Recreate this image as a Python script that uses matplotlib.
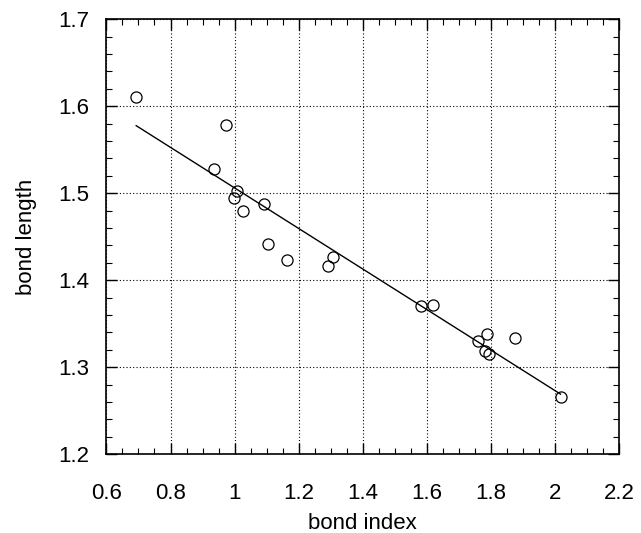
import numpy as np
import matplotlib
matplotlib.use("Agg")
import matplotlib.pyplot as plt
from matplotlib.ticker import MultipleLocator

plt.rcParams['font.family'] = ['Liberation Sans', 'DejaVu Sans']

# values
bond_index = [0.693, 0.936, 0.972, 0.997, 1.008, 1.025, 1.093, 1.105, 1.165, 1.292,
              1.307, 1.583, 1.618, 1.759, 1.780, 1.786, 1.794, 1.875, 2.017]
bond_length = [1.610, 1.528, 1.578, 1.494, 1.502, 1.480, 1.487, 1.442, 1.423, 1.416,
               1.427, 1.370, 1.371, 1.330, 1.318, 1.338, 1.315, 1.333, 1.266]

x_ticks = [0.6, 0.8, 1.0, 1.2, 1.4, 1.6, 1.8, 2.0, 2.2]
x_ticklabels = ["0.6", "0.8", "1", "1.2", "1.4", "1.6", "1.8", "2", "2.2"]
y_ticks = [1.2, 1.3, 1.4, 1.5, 1.6, 1.7]
y_ticklabels = ["1.2", "1.3", "1.4", "1.5", "1.6", "1.7"]

x = np.array(bond_index)
y = np.array(bond_length)

# least squares line
slope, icpt = np.polyfit(x, y, 1)
xf = np.array([x.min(), x.max()])

fig = plt.figure(figsize=(6.41, 5.33), dpi=100)
ax = fig.add_axes([0.166, 0.148, 0.800, 0.816])

ax.plot(xf, slope * xf + icpt, color="black", lw=1.0)
ax.plot(x, y, "o", mfc="none", mec="black", ms=8, mew=0.9)

ax.set_xlim(0.6, 2.2)
ax.set_ylim(1.2, 1.7)
ax.set_xticks(x_ticks)
ax.set_xticklabels(x_ticklabels)
ax.set_yticks(y_ticks)
ax.set_yticklabels(y_ticklabels)
ax.xaxis.set_minor_locator(MultipleLocator(0.05))
ax.yaxis.set_minor_locator(MultipleLocator(0.02))
ax.tick_params(which="both", direction="in", top=True, right=True, labelsize=16)
ax.tick_params(axis="x", pad=21)
ax.tick_params(axis="y", pad=12)
ax.tick_params(which="major", length=8, width=1)
ax.tick_params(which="minor", length=4, width=0.8)

ax.grid(True, which="major", color="black", linestyle=(0, (1, 2)), lw=0.8)
for s in ax.spines.values():
    s.set_linewidth(1.2)

ax.set_xlabel("bond index", fontsize=16, labelpad=6)
ax.set_ylabel("bond length", fontsize=16, labelpad=16)

plt.savefig("out.png", dpi=100)
